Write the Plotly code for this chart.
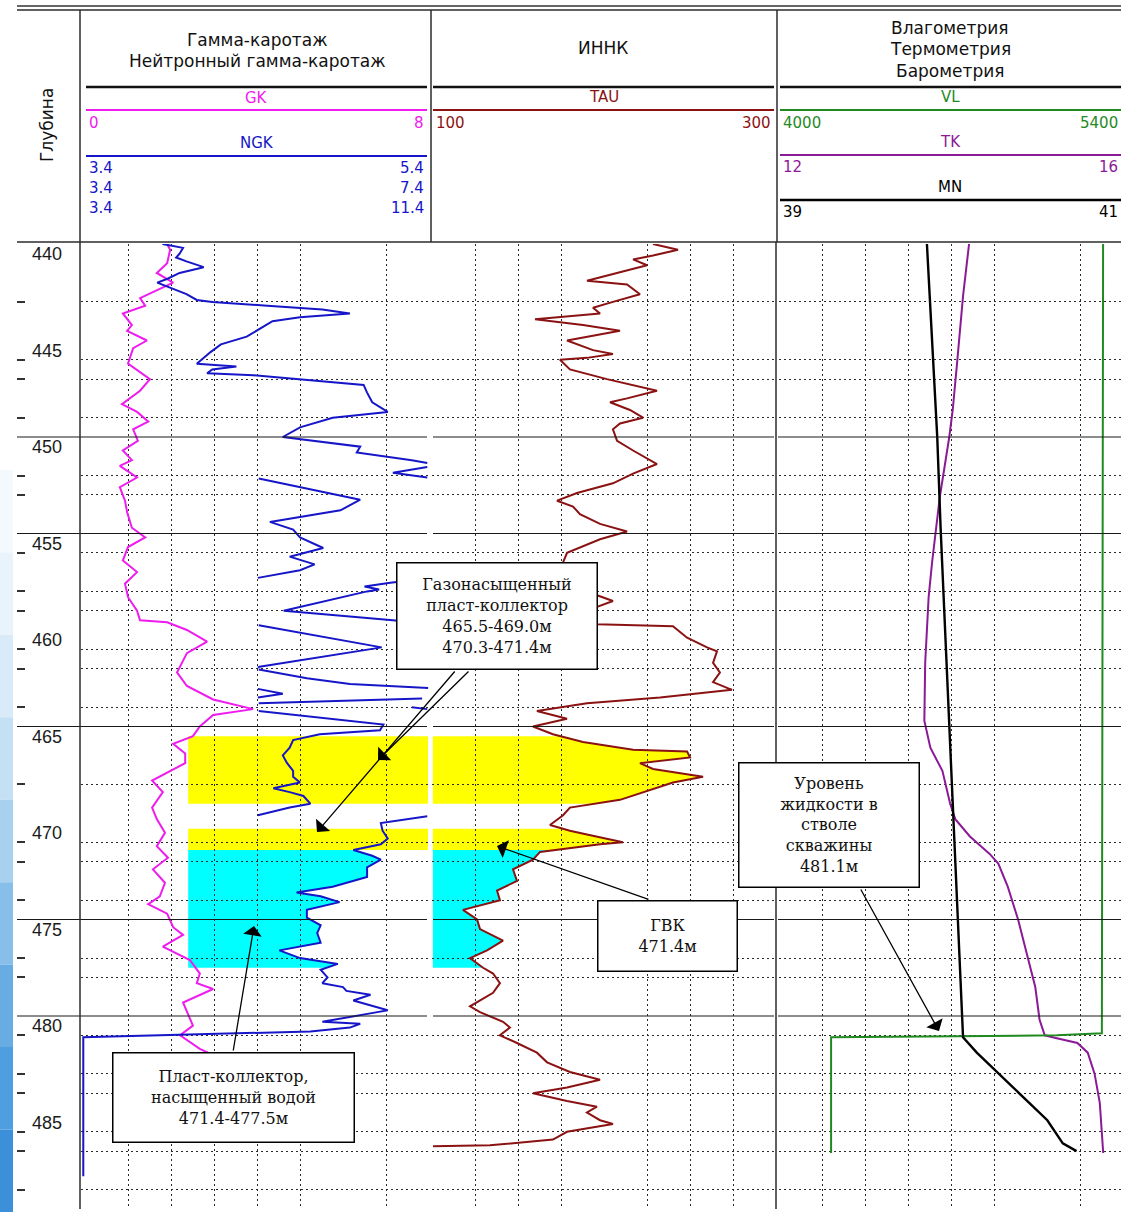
import numpy as np
import plotly.graph_objects as go

# ---------------------------------------------------------------- page geometry
W, H = 1121, 1212


def px(x):
    return x / W


def py(y):
    return 1 - y / H


# ---------------------------------------------------------------- depth scale
DEPTH_TOP, DEPTH_BOTTOM = 440, 490
DEPTH_LABELS = [440, 445, 450, 455, 460, 465, 470, 475, 480, 485]
DOTTED_DEPTHS = [443, 446, 447, 449, 452, 453, 456, 458, 459, 461, 462, 464,
                 468, 471, 472, 474, 477, 478, 481, 483, 484, 486, 487, 489]
SOLID_DEPTHS = [450, 455, 465, 475, 480]

# ---------------------------------------------------------------- curve scales
GK_RANGE = (0, 8)
NGK_SCALES = [(3.4, 5.4), (3.4, 7.4), (3.4, 11.4)]
TAU_RANGE = (100, 300)
VL_RANGE = (4000, 5400)
TK_RANGE = (12, 16)
MN_RANGE = (39, 41)

# ---------------------------------------------------------------- interpretation
GAS_INTERVALS = [(465.5, 469.0), (470.3, 471.4)]
WATER_INTERVAL = (471.4, 477.5)
GWC_DEPTH = 471.4
LIQUID_LEVEL = 481.1
NGK_CUTOFF = 4.0

# ---------------------------------------------------------------- GK
GK_DEPTH = [440.0, 440.3, 441.0, 441.5, 442.0, 442.5, 442.8, 443.2, 443.6, 444.2,
            444.5, 445.0, 445.4, 446.2, 447.0, 447.6, 448.3, 448.7, 449.2, 449.6,
            450.2, 450.7, 451.2, 451.5, 452.1, 452.6, 453.3, 453.9, 454.7, 455.2,
            455.7, 456.4, 457.0, 457.6, 458.3, 459.0, 459.5, 459.6, 460.0, 460.6,
            461.2, 461.9, 462.2, 462.9, 463.6, 464.1, 464.4, 465.0, 465.5, 465.9,
            466.4, 466.9, 467.4, 467.8, 468.4, 469.2, 469.8, 470.5, 471.2, 471.8,
            472.4, 473.1, 473.8, 474.2, 474.7, 475.4, 475.8, 476.4, 477.1, 477.8,
            478.3, 478.6, 479.3, 479.8, 480.5, 481.0, 481.7, 481.9]
GK = [1.91, 1.98, 1.91, 1.67, 2.05, 1.58, 1.28, 1.40, 0.88, 1.09,
      0.98, 1.44, 1.12, 1.00, 1.51, 1.28, 0.86, 1.21, 1.47, 1.12,
      1.23, 0.88, 1.09, 0.81, 1.21, 0.81, 0.93, 0.98, 1.09, 1.40,
      1.00, 0.88, 1.21, 0.93, 1.00, 1.21, 1.28, 1.91, 2.37, 2.84,
      2.37, 2.21, 2.14, 2.37, 2.98, 3.91, 2.98, 2.67, 2.51, 2.05,
      2.33, 2.33, 1.91, 1.56, 1.81, 1.56, 1.67, 1.86, 1.67, 1.93,
      1.58, 1.86, 1.74, 1.47, 1.91, 2.05, 2.28, 1.81, 2.44, 2.67,
      2.60, 2.98, 2.28, 2.37, 2.51, 2.21, 2.67, 2.86]

# ---------------------------------------------------------------- NGK
NGK_DEPTH = [440.0, 440.2, 440.5, 440.7, 440.9, 441.2, 441.5, 441.8, 442.0, 442.3,
             442.6, 442.9, 443.0, 443.2, 443.4, 443.6, 443.8, 444.0, 444.5, 444.8,
             445.2, 445.6, 446.2, 446.35, 446.5, 446.7, 446.8, 447.0, 447.3, 447.7,
             448.2, 448.7, 449.0, 449.5, 450.0, 450.5, 450.8, 451.2, 451.35, 451.45,
             451.55, 451.85, 452.1, 452.15, 453.25, 453.8, 454.4, 454.8, 455.2, 455.75,
             456.2, 456.6, 456.9, 457.3, 457.4, 457.5, 457.55, 457.75, 457.9, 458.0,
             459.0, 459.5, 459.6, 459.68, 459.75, 460.9, 461.9, 461.95, 462.0, 462.05,
             462.5, 462.8, 463.0, 463.05, 463.3, 463.5, 463.55, 463.8, 464.0, 464.1,
             464.2, 464.9, 465.2, 465.4, 465.7, 466.1, 466.5, 466.9, 467.3, 467.6,
             467.9, 468.2, 468.4, 468.6, 469.0, 469.2, 469.6, 469.65, 470.0, 470.4,
             470.8, 471.1, 471.4, 471.7, 471.9, 472.3, 472.8, 473.3, 473.6, 473.8,
             474.1, 474.5, 474.9, 475.3, 475.7, 476.2, 476.6, 477.0, 477.3, 477.6,
             478.0, 478.3, 478.5, 478.7, 478.9, 479.2, 479.7, 479.8, 480.3, 480.4,
             480.6, 480.8, 480.85, 481.1, 488.3]
NGK = [3.85, 3.97, 3.95, 3.93, 3.99, 4.09, 3.95, 3.88, 3.82, 3.91,
       3.99, 4.05, 4.14, 4.46, 4.78, 4.94, 4.65, 4.49, 4.40, 4.34,
       4.19, 4.13, 4.05, 4.28, 4.14, 4.11, 4.38, 4.65, 5.02, 5.04,
       5.07, 5.16, 4.84, 4.65, 4.55, 5.00, 4.98, 5.30, 5.39, 5.42,
       5.39, 5.19, 5.39, 5.42, 6.60, 6.37, 5.55, 5.82, 5.90, 6.17,
       5.78, 6.07, 5.90, 5.41, 5.36, 7.05, 6.95, 6.65, 6.82, 6.68,
       5.71, 6.98, 7.20, 5.36, 5.42, 6.85, 5.43, 5.41, 5.30, 5.42,
       5.98, 6.48, 7.39, 7.42, 8.00, 7.42, 7.32, 5.42, 5.30, 5.39,
       5.42, 6.87, 6.83, 6.13, 5.82, 5.78, 5.70, 5.75, 5.82, 5.82,
       5.90, 5.59, 5.78, 5.94, 6.02, 5.78, 5.41, 5.39, 5.12, 5.13,
       5.16, 5.12, 4.96, 5.07, 5.12, 5.04, 5.04, 4.84, 4.63, 4.77,
       4.88, 4.69, 4.69, 4.77, 4.75, 4.77, 4.53, 4.65, 4.87, 4.77,
       4.81, 4.78, 4.90, 4.92, 5.06, 4.96, 5.16, 5.10, 4.78, 5.00,
       4.94, 4.71, 4.49, 3.39, 3.39]

# ---------------------------------------------------------------- INNK TAU
TAU_DEPTH = [440.0, 440.3, 440.6, 440.8, 441.1, 441.9, 442.1, 442.6, 443.0, 443.3,
             443.6, 443.9, 444.2, 444.5, 445.0, 445.5, 445.7, 445.9, 446.0, 446.5,
             447.0, 447.6, 448.0, 448.2, 448.6, 449.0, 449.3, 449.6, 450.2, 450.7,
             451.4, 451.9, 452.4, 452.9, 453.3, 453.6, 454.0, 454.5, 454.9, 455.3,
             456.0, 456.5, 457.0, 457.6, 458.2, 458.5, 458.8, 459.3, 459.7, 459.8,
             460.4, 460.9, 461.1, 461.7, 462.2, 462.7, 463.1, 463.5, 463.8, 464.2,
             464.6, 465.0, 465.4, 465.8, 466.2, 466.3, 466.6, 466.9, 467.2, 467.6,
             467.9, 468.3, 468.8, 469.2, 469.6, 470.1, 470.4, 470.6, 471.0, 471.1,
             471.5, 471.9, 472.4, 473.0, 473.5, 474.0, 474.5, 475.0, 475.5, 476.1,
             476.6, 477.0, 477.5, 477.8, 478.3, 478.8, 479.5, 479.8, 480.3, 480.6,
             481.0, 481.4, 481.9, 482.4, 482.9, 483.3, 483.7, 484.0, 484.4, 484.7,
             485.0, 485.4, 485.6, 486.0, 486.4, 486.7, 486.75]
TAU = [228.5, 243.0, 228.5, 216.9, 225.0, 190.1, 213.4, 220.9, 205.2, 193.6,
       197.7, 159.9, 187.8, 209.3, 178.5, 193.6, 205.2, 190.1, 174.4, 180.2,
       201.7, 230.8, 213.4, 203.5, 215.1, 222.7, 209.3, 205.2, 207.6, 216.9,
       230.8, 216.9, 205.2, 184.3, 172.7, 182.0, 186.0, 197.7, 213.4, 197.7,
       178.5, 176.2, 183.1, 189.0, 196.0, 205.2, 196.0, 189.0, 196.0, 240.1,
       248.3, 259.9, 265.7, 263.4, 267.4, 263.4, 274.4, 232.6, 190.1, 161.0,
       178.5, 158.7, 170.3, 187.8, 216.9, 248.3, 250.0, 220.9, 228.5, 257.6,
       240.1, 226.7, 209.3, 180.2, 176.2, 168.6, 180.2, 190.1, 211.0, 197.7,
       162.8, 158.7, 147.1, 149.4, 137.8, 139.5, 118.0, 126.2, 127.9, 141.3,
       132.0, 122.1, 129.7, 135.5, 139.5, 135.5, 122.1, 127.9, 141.3, 145.3,
       139.5, 149.4, 161.0, 166.9, 180.2, 197.7, 178.5, 158.7, 178.5, 195.9,
       190.1, 197.7, 205.2, 178.5, 170.3, 133.7, 100.6]

# ---------------------------------------------------------------- flowmeter / thermometer / manometer
VL_DEPTH = [440.0, 450.0, 460.0, 470.0, 480.9, 481.0, LIQUID_LEVEL, 487.1]
VL = [5319, 5318, 5317, 5315, 5314, 5131, 4212, 4212]

TK_DEPTH = [440.0, 442.7, 446.2, 448.6, 450.0, 453.1, 456.5, 458.3, 461.7, 464.7,
            466.1, 467.3, 469.0, 469.8, 470.7, 471.6, 472.1, 473.3, 475.0, 476.7,
            478.5, 480.2, 481.0, 481.15, 481.4, 481.9, 483.0, 484.5, 487.1]
TK = [14.21, 14.14, 14.07, 14.02, 13.98, 13.87, 13.78, 13.74, 13.70, 13.69,
      13.76, 13.90, 13.99, 14.05, 14.22, 14.45, 14.55, 14.66, 14.78, 14.88,
      14.98, 15.03, 15.09, 15.23, 15.47, 15.59, 15.67, 15.73, 15.77]

MN_DEPTH = [440.0, 450.0, 454.8, 465.2, LIQUID_LEVEL, 481.9, 483.7, 485.4, 486.6, 487.0]
MN = [39.86, 39.92, 39.94, 39.99, 40.07, 40.15, 40.36, 40.56, 40.65, 40.73]

# ---------------------------------------------------------------- colours
GK_COLOR = "#ee1cee"
NGK_COLOR = "#1616c8"
TAU_COLOR = "#8b1212"
VL_COLOR = "#1f8a1f"
TK_COLOR = "#8a1a96"
MN_COLOR = "#000000"
GAS_COLOR = "#ffff00"
WATER_COLOR = "#00ffff"
GRID_COLOR = "#2a2a2a"

SANS = "Liberation Sans, Arial, sans-serif"
WIDE_SANS = "DejaVu Sans, Verdana, sans-serif"
SERIF = "DejaVu Serif, Liberation Serif, serif"

# track positions on the page (pixels); PAD keeps edge-hugging curves visible
TRACK1 = (85, 429)
TRACK2 = (432, 776)
TRACK3 = (779, 1123)
PAD = 4
VISIBLE3 = (W - TRACK3[0]) / (TRACK3[1] - TRACK3[0])


def padded_range(rng, track, pad_left):
    lo, hi = rng
    per_px = (hi - lo) / (track[1] - track[0])
    return [lo - pad_left * per_px, hi]


def cut_range(rng, frac):
    lo, hi = rng
    return [lo, lo + (hi - lo) * frac]


def grid_vals(rng, skip):
    lo, hi = rng
    step = (hi - lo) / 8
    return [lo + i * step for i in range(1, 8) if i != skip]


# ---------------------------------------------------------------- NGK with wrap-around scales
def ngk_scale(v):
    for i, (lo, hi) in enumerate(NGK_SCALES):
        if v <= hi:
            return i, lo, hi
    lo, hi = NGK_SCALES[-1]
    return len(NGK_SCALES) - 1, lo, hi


def ngk_display():
    blo, bhi = NGK_SCALES[0]
    xs, ys, plain = [], [], []
    prev = None
    for d, v in zip(NGK_DEPTH, NGK):
        i, lo, hi = ngk_scale(v)
        x = blo + (v - lo) / (hi - lo) * (bhi - blo)
        if prev is not None and i != prev:
            xs.append(None)
            ys.append(None)
        xs.append(x)
        ys.append(d)
        plain.append(x)
        prev = i
    return xs, ys, plain


NGK_X, NGK_Y, NGK_PLAIN = ngk_display()


def curve_fill_path(depth, vals, d0, d1, base):
    dd = [d0] + [d for d in depth if d0 < d < d1] + [d1]
    vv = np.interp(dd, depth, vals)
    pts = [(base, d0)] + list(zip(vv, dd)) + [(base, d1)]
    return "M " + " L ".join(f"{x:.3f},{y:.3f}" for x, y in pts) + " Z"


fig = go.Figure()

line_w = 2
fig.add_trace(go.Scatter(x=GK, y=GK_DEPTH, xaxis="x", yaxis="y", mode="lines",
                         line=dict(color=GK_COLOR, width=line_w)))
fig.add_trace(go.Scatter(x=NGK_X, y=NGK_Y, xaxis="x5", yaxis="y", mode="lines",
                         line=dict(color=NGK_COLOR, width=line_w), connectgaps=False))
fig.add_trace(go.Scatter(x=TAU, y=TAU_DEPTH, xaxis="x2", yaxis="y", mode="lines",
                         line=dict(color=TAU_COLOR, width=line_w)))
fig.add_trace(go.Scatter(x=VL, y=VL_DEPTH, xaxis="x4", yaxis="y", mode="lines",
                         line=dict(color=VL_COLOR, width=line_w)))
fig.add_trace(go.Scatter(x=TK, y=TK_DEPTH, xaxis="x3", yaxis="y", mode="lines",
                         line=dict(color=TK_COLOR, width=line_w)))
fig.add_trace(go.Scatter(x=MN, y=MN_DEPTH, xaxis="x6", yaxis="y", mode="lines",
                         line=dict(color=MN_COLOR, width=2.4)))

shapes = []

# soft blue strip along the left edge of the slide
strip_cols = ["#f4f9fd", "#e9f3fb", "#d9ebf8", "#c4e0f4", "#a8d0ef", "#88bfea",
              "#68ace4", "#4f9edf", "#3b90d9"]
y_start, y_end = 470, H
seg = (y_end - y_start) / len(strip_cols)
for i, c in enumerate(strip_cols):
    shapes.append(dict(type="rect", xref="paper", yref="paper", x0=0, x1=px(13),
                       y0=py(y_start + (i + 1) * seg), y1=py(y_start + i * seg),
                       fillcolor=c, line=dict(width=0), layer="below"))

# interpretation fills (drawn beneath the grid)
blo, bhi = NGK_SCALES[0]
for d0, d1 in GAS_INTERVALS:
    shapes.append(dict(type="rect", xref="x5", yref="y", x0=NGK_CUTOFF, x1=bhi - 0.006,
                       y0=d0, y1=d1, fillcolor=GAS_COLOR, line=dict(width=0), layer="below"))
    shapes.append(dict(type="path", xref="x2", yref="y",
                       path=curve_fill_path(TAU_DEPTH, TAU, d0, d1, TAU_RANGE[0] + 0.5),
                       fillcolor=GAS_COLOR, line=dict(width=0), layer="below"))
w0, w1 = WATER_INTERVAL
shapes.append(dict(type="path", xref="x5", yref="y",
                   path=curve_fill_path(NGK_DEPTH, NGK_PLAIN, w0, w1, NGK_CUTOFF),
                   fillcolor=WATER_COLOR, line=dict(width=0), layer="below"))
shapes.append(dict(type="path", xref="x2", yref="y",
                   path=curve_fill_path(TAU_DEPTH, TAU, w0, w1, TAU_RANGE[0] + 0.5),
                   fillcolor=WATER_COLOR, line=dict(width=0), layer="below"))

# solid depth lines
for d in SOLID_DEPTHS:
    for x0, x1 in [(17, 427), (433, 774), (778, W)]:
        shapes.append(dict(type="line", xref="paper", yref="y", x0=px(x0), x1=px(x1),
                           y0=d, y1=d, line=dict(color="#1a1a1a", width=1.2)))

# header frame
frame = "#2b2b2b"
shapes.append(dict(type="line", xref="paper", yref="paper", x0=px(17), x1=1,
                   y0=py(6), y1=py(6), line=dict(color="#666666", width=2)))
for yy in (10, 242):
    shapes.append(dict(type="line", xref="paper", yref="paper", x0=px(17), x1=1,
                       y0=py(yy), y1=py(yy), line=dict(color=frame, width=1.5)))
for xx in (431, 777):
    shapes.append(dict(type="line", xref="paper", yref="paper", x0=px(xx), x1=px(xx),
                       y0=py(242), y1=py(10), line=dict(color=frame, width=1.5)))
shapes.append(dict(type="line", xref="paper", yref="paper", x0=px(80), x1=px(80),
                   y0=py(1209), y1=py(10), line=dict(color=frame, width=1.5)))
shapes.append(dict(type="line", xref="paper", yref="paper", x0=px(776), x1=px(776),
                   y0=py(1209), y1=py(242), line=dict(color=frame, width=1.5)))

# header separators and curve scale bars
HEADER_SPANS = {1: (86, 427), 2: (433, 774), 3: (780, W)}
for t, (x0, x1) in HEADER_SPANS.items():
    shapes.append(dict(type="line", xref="paper", yref="paper", x0=px(x0), x1=px(x1),
                       y0=py(87), y1=py(87), line=dict(color="#111111", width=2.5)))

# (name, track, colour, name y, bar y, [(left, right, y), ...])
CURVE_HEADERS = [
    ("GK", 1, GK_COLOR, 98, 110, [(GK_RANGE[0], GK_RANGE[1], 123)]),
    ("NGK", 1, NGK_COLOR, 143, 156, [(lo, hi, 168 + 20 * i) for i, (lo, hi) in enumerate(NGK_SCALES)]),
    ("TAU", 2, TAU_COLOR, 97, 110, [(TAU_RANGE[0], TAU_RANGE[1], 123)]),
    ("VL", 3, VL_COLOR, 97, 110, [(VL_RANGE[0], VL_RANGE[1], 123)]),
    ("TK", 3, TK_COLOR, 142, 155, [(TK_RANGE[0], TK_RANGE[1], 167)]),
    ("MN", 3, MN_COLOR, 187, 200, [(MN_RANGE[0], MN_RANGE[1], 212)]),
]

annotations = []


def fmt(v):
    return f"{v:g}"


for name, t, col, ny, by, nums in CURVE_HEADERS:
    x0, x1 = HEADER_SPANS[t]
    shapes.append(dict(type="line", xref="paper", yref="paper", x0=px(x0), x1=px(x1),
                       y0=py(by), y1=py(by),
                       line=dict(color=col, width=2.5 if name == "MN" else 2)))
    annotations.append(dict(text=name, x=px((x0 + x1) / 2 if t != 3 else 950), y=py(ny),
                            xref="paper", yref="paper", showarrow=False,
                            xanchor="center", yanchor="middle",
                            font=dict(family=WIDE_SANS, size=15, color=col)))
    for lo, hi, yy in nums:
        annotations.append(dict(text=fmt(lo), x=px(x0 + 1), y=py(yy), xref="paper", yref="paper",
                                showarrow=False, xanchor="left", yanchor="middle",
                                font=dict(family=WIDE_SANS, size=15, color=col)))
        annotations.append(dict(text=fmt(hi), x=px(x1 - 1), y=py(yy), xref="paper", yref="paper",
                                showarrow=False, xanchor="right", yanchor="middle",
                                font=dict(family=WIDE_SANS, size=15, color=col)))

TITLES = [("Гамма-каротаж", 257, 40), ("Нейтронный гамма-каротаж", 257, 61),
          ("ИННК", 603, 48),
          ("Влагометрия", 950, 28), ("Термометрия", 950, 49), ("Барометрия", 950, 71)]
for txt, xx, yy in TITLES:
    annotations.append(dict(text=txt, x=px(xx), y=py(yy), xref="paper", yref="paper",
                            showarrow=False, xanchor="center", yanchor="middle",
                            font=dict(family=WIDE_SANS, size=17, color="#111111")))

annotations.append(dict(text="Глубина", x=px(47), y=py(125), xref="paper", yref="paper",
                        textangle=-90, showarrow=False, xanchor="center", yanchor="middle",
                        font=dict(family=WIDE_SANS, size=17, color="#111111")))

for d in DEPTH_LABELS:
    annotations.append(dict(text=str(d), x=px(47), y=d, xref="paper", yref="y",
                            yshift=-10, showarrow=False, xanchor="center", yanchor="middle",
                            font=dict(family=SANS, size=18, color="#1a1a1a")))

# callout boxes: (text, centre x, centre y, width, height)
CALLOUTS = [
    ("Газонасыщенный<br>пласт-коллектор<br>"
     f"{GAS_INTERVALS[0][0]:.1f}-{GAS_INTERVALS[0][1]:.1f}м<br>"
     f"{GAS_INTERVALS[1][0]:.1f}-{GAS_INTERVALS[1][1]:.1f}м", 497, 616, 202, 108),
    (f"ГВК<br>{GWC_DEPTH:.1f}м", 667.5, 936, 141, 72),
    (f"Уровень<br>жидкости в<br>стволе<br>скважины<br>{LIQUID_LEVEL:.1f}м", 829, 825, 182, 126),
    (f"Пласт-коллектор,<br>насыщенный водой<br>{WATER_INTERVAL[0]:.1f}-{WATER_INTERVAL[1]:.1f}м",
     233.5, 1097.5, 243, 91),
]
# arrows: (head x, head y, tail x, tail y)
ARROWS = [(378, 760, 470, 670), (317, 832, 456, 670), (497, 846, 650, 900),
          (939, 1031, 860, 888), (254, 926, 233, 1052)]

for hx, hy, tx, ty in ARROWS:
    annotations.append(dict(text="", x=px(hx), y=py(hy), xref="paper", yref="paper",
                            showarrow=True, ax=tx - hx, ay=ty - hy,
                            arrowhead=1, arrowsize=2.4, arrowwidth=1.3, arrowcolor="#000000"))

for txt, cx, cy, bw, bh in CALLOUTS:
    annotations.append(dict(text=txt, x=px(cx), y=py(cy), xref="paper", yref="paper",
                            showarrow=False, xanchor="center", yanchor="middle",
                            width=bw - 3, height=bh - 3, align="center", valign="middle",
                            bgcolor="#ffffff", bordercolor="#000000", borderwidth=1.5,
                            borderpad=0, font=dict(family=SERIF, size=16, color="#111111")))

grid_dash = "2px,3px"
common_x = dict(showticklabels=False, ticks="", zeroline=False, showline=False,
                showgrid=True, gridcolor=GRID_COLOR, griddash=grid_dash, gridwidth=1,
                anchor="y", fixedrange=True)
hidden_x = dict(visible=False, showgrid=False, zeroline=False, anchor="y", fixedrange=True)

track1_dom = [px(TRACK1[0] - PAD), px(TRACK1[1])]

fig.update_layout(
    width=W, height=H,
    margin=dict(l=0, r=0, t=0, b=0),
    paper_bgcolor="#ffffff", plot_bgcolor="#ffffff",
    showlegend=False,
    xaxis=dict(domain=track1_dom, range=padded_range(GK_RANGE, TRACK1, PAD),
               tickvals=grid_vals(GK_RANGE, 6), **common_x),
    xaxis5=dict(domain=track1_dom, range=padded_range(NGK_SCALES[0], TRACK1, PAD),
                overlaying="x", **hidden_x),
    xaxis2=dict(domain=[px(TRACK2[0]), px(TRACK2[1])], range=list(TAU_RANGE),
                tickvals=grid_vals(TAU_RANGE, 4), **common_x),
    xaxis3=dict(domain=[px(TRACK3[0]), 1.0], range=cut_range(TK_RANGE, VISIBLE3),
                tickvals=grid_vals(TK_RANGE, 6), **common_x),
    xaxis4=dict(domain=[px(TRACK3[0]), 1.0], range=cut_range(VL_RANGE, VISIBLE3),
                overlaying="x3", **hidden_x),
    xaxis6=dict(domain=[px(TRACK3[0]), 1.0], range=cut_range(MN_RANGE, VISIBLE3),
                overlaying="x3", **hidden_x),
    yaxis=dict(domain=[py(1209), py(244)], range=[DEPTH_BOTTOM, DEPTH_TOP],
               anchor="free", position=px(25), tickvals=DOTTED_DEPTHS,
               ticks="outside", ticklen=8, tickwidth=1.5, tickcolor="#333333",
               showticklabels=False, showline=False, zeroline=False,
               showgrid=True, gridcolor=GRID_COLOR, griddash=grid_dash, gridwidth=1,
               fixedrange=True),
    shapes=shapes,
    annotations=annotations,
)

fig.write_html("out.html")
